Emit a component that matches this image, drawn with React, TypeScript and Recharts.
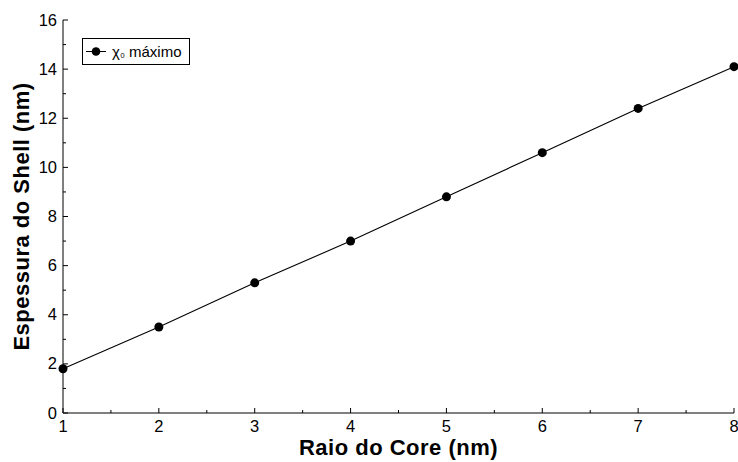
import React from "react";
import { LineChart, Line, XAxis, YAxis } from "recharts";

const coreRadius = [1, 2, 3, 4, 5, 6, 7, 8];
const shellThickness = [1.8, 3.5, 5.3, 7.0, 8.8, 10.6, 12.4, 14.1];
const xTicks = [1, 1.5, 2, 2.5, 3, 3.5, 4, 4.5, 5, 5.5, 6, 6.5, 7, 7.5, 8];
const yTicks = [0, 1, 2, 3, 4, 5, 6, 7, 8, 9, 10, 11, 12, 13, 14, 15, 16];
const seriesName = "χ₀ máximo";

const data = coreRadius.map((r, i) => ({ r, t: shellThickness[i] }));

const FONT = "'Liberation Sans', Arial, Helvetica, sans-serif";

const isMajorX = (v: number) => Number.isInteger(v);
const isMajorY = (v: number) => v % 2 === 0;

function BottomTick(props: any) {
  const { x, y, payload } = props;
  const major = isMajorX(payload.value);
  return (
    <g>
      <line x1={x} x2={x} y1={y} y2={y - (major ? 5 : 3)} stroke="#000" />
      {major && (
        <text x={x} y={y + 19} textAnchor="middle" fontSize={16.5} fontFamily={FONT} fill="#000">
          {payload.value}
        </text>
      )}
    </g>
  );
}

function TopTick(props: any) {
  const { x, y, payload } = props;
  const major = isMajorX(payload.value);
  return <line x1={x} x2={x} y1={y} y2={y + (major ? 5 : 3)} stroke="#000" />;
}

function LeftTick(props: any) {
  const { x, y, payload } = props;
  const major = isMajorY(payload.value);
  return (
    <g>
      <line x1={x} x2={x + (major ? 5 : 3)} y1={y} y2={y} stroke="#000" />
      {major && (
        <text x={x - 6} y={y + 5.5} textAnchor="end" fontSize={16.5} fontFamily={FONT} fill="#000">
          {payload.value}
        </text>
      )}
    </g>
  );
}

function RightTick(props: any) {
  const { x, y, payload } = props;
  const major = isMajorY(payload.value);
  return <line x1={x} x2={x - (major ? 5 : 3)} y1={y} y2={y} stroke="#000" />;
}

function LegendBox() {
  return (
    <svg width={108} height={27} style={{ position: "absolute", left: 82, top: 38 }}>
      <rect x={0.5} y={0.5} width={107} height={26} fill="#fff" stroke="#000" />
      <line x1={4} x2={24} y1={13.5} y2={13.5} stroke="#000" />
      <circle cx={14} cy={13.5} r={4.3} fill="#000" />
      <text x={30} y={18.5} fontSize={15} fontFamily={FONT} fill="#000">
        χ<tspan fontSize={12}>₀</tspan> máximo
      </text>
    </svg>
  );
}

export default function App() {
  return (
    <div style={{ position: "absolute", left: 0, top: 0, width: 738, height: 462, background: "#fff" }}>
      <LineChart width={738} height={462} data={data} margin={{ top: 20, right: 4, bottom: 0, left: 0 }}>
        <XAxis
          xAxisId="b"
          dataKey="r"
          type="number"
          domain={[1, 8]}
          ticks={xTicks}
          interval={0}
          tickSize={0}
          tickMargin={0}
          tickLine={false}
          height={49}
          axisLine={{ stroke: "#000" }}
          tick={<BottomTick />}
          label={{
            content: ({ viewBox }: any) => (
              <text
                x={viewBox.x + viewBox.width / 2}
                y={viewBox.y + 42}
                textAnchor="middle"
                fontSize={22}
                letterSpacing={0.5}
                fontWeight="bold"
                fontFamily={FONT}
                fill="#000"
              >
                Raio do Core (nm)
              </text>
            ),
          }}
        />
        <XAxis
          xAxisId="t"
          orientation="top"
          dataKey="r"
          type="number"
          domain={[1, 8]}
          ticks={xTicks}
          interval={0}
          tickSize={0}
          tickMargin={0}
          tickLine={false}
          height={0}
          axisLine={{ stroke: "#000" }}
          tick={<TopTick />}
        />
        <YAxis
          yAxisId="l"
          type="number"
          domain={[0, 16]}
          ticks={yTicks}
          interval={0}
          tickSize={0}
          tickMargin={0}
          tickLine={false}
          width={63}
          axisLine={{ stroke: "#000" }}
          tick={<LeftTick />}
          label={{
            content: ({ viewBox }: any) => {
              const cx = 23;
              const cy = viewBox.y + viewBox.height / 2;
              return (
                <text
                  x={cx}
                  y={cy}
                  transform={`rotate(-90 ${cx} ${cy})`}
                  textAnchor="middle"
                  dominantBaseline="middle"
                  fontSize={22}
                  letterSpacing={0.5}
                  fontWeight="bold"
                  fontFamily={FONT}
                  fill="#000"
                >
                  Espessura do Shell (nm)
                </text>
              );
            },
          }}
        />
        <YAxis
          yAxisId="r"
          orientation="right"
          type="number"
          domain={[0, 16]}
          ticks={yTicks}
          interval={0}
          tickSize={0}
          tickMargin={0}
          tickLine={false}
          width={0}
          axisLine={{ stroke: "#000" }}
          tick={<RightTick />}
        />
        <Line
          xAxisId="b"
          yAxisId="l"
          dataKey="t"
          name={seriesName}
          stroke="#000"
          strokeWidth={1.1}
          dot={{ r: 4.5, fill: "#000", stroke: "#000", strokeWidth: 0 }}
          isAnimationActive={false}
        />
      </LineChart>
      <LegendBox />
    </div>
  );
}
